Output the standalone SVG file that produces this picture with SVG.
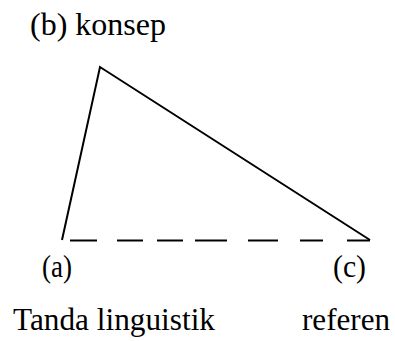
<svg xmlns="http://www.w3.org/2000/svg" width="395" height="341" viewBox="0 0 395 341">
<style>
text{font-family:'Liberation Serif',serif;font-size:31px;fill:#000}
.l{stroke:#000;stroke-width:2;fill:none;stroke-linecap:butt}
</style>
<rect width="395" height="341" fill="#fff"/>
<g id="connectors">
<polyline class="l" points="62,240 100,67 370,240"/>
<g id="dashed">
<line class="l" x1="70" y1="240.5" x2="97" y2="240.5"/>
<line class="l" x1="117" y1="240.5" x2="143" y2="240.5"/>
<line class="l" x1="157" y1="240.5" x2="183" y2="240.5"/>
<line class="l" x1="195" y1="240.5" x2="227" y2="240.5"/>
<line class="l" x1="248" y1="240.5" x2="278" y2="240.5"/>
<line class="l" x1="300" y1="240.5" x2="323" y2="240.5"/>
<line class="l" x1="347" y1="240.5" x2="370" y2="240.5"/>
</g>
</g>
<g id="node-b"><text x="30" y="35" textLength="136" lengthAdjust="spacingAndGlyphs">(b) konsep</text></g>
<g id="node-a">
<text x="42" y="277" textLength="30" lengthAdjust="spacingAndGlyphs">(a)</text>
<text x="13" y="330" textLength="202" lengthAdjust="spacingAndGlyphs">Tanda linguistik</text>
</g>
<g id="node-c">
<text x="333" y="277" textLength="33" lengthAdjust="spacingAndGlyphs">(c)</text>
<text x="302" y="330" textLength="88" lengthAdjust="spacingAndGlyphs">referen</text>
</g>
</svg>
